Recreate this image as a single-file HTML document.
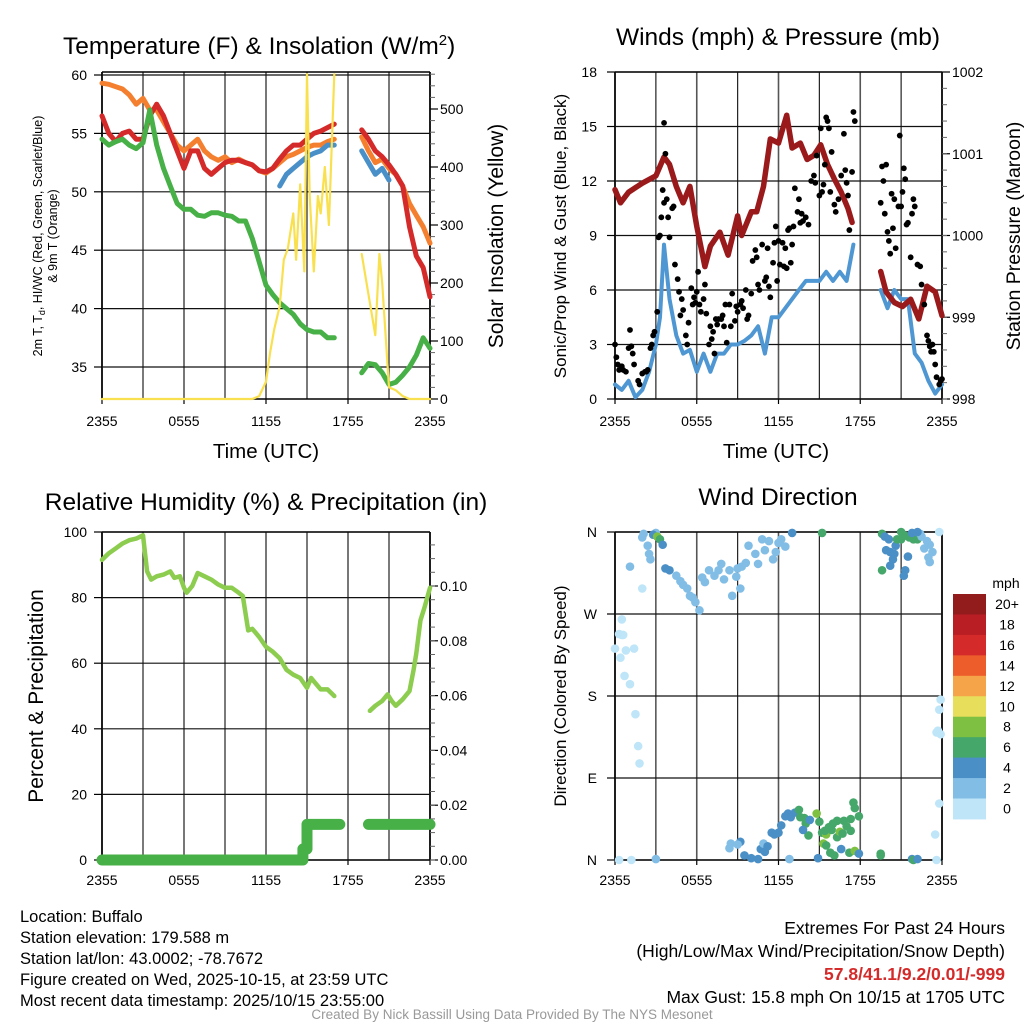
<!DOCTYPE html>
<html><head><meta charset="utf-8"><style>
html,body{margin:0;padding:0;background:#fff;}
svg text{font-family:"Liberation Sans",sans-serif;fill:#000;}
</style></head><body>
<svg id="c" width="1024" height="1024" viewBox="0 0 1024 1024" xmlns="http://www.w3.org/2000/svg">
<g id="g"></g>
</svg>
<script>
// ---------- DATA ----------
const tickTimes=[0,6,12,18,24];
const tickLabels=["2355","0555","1155","1755","2355"];
const tT=[0,0.5,1,1.5,2,2.5,3,3.5,4,4.5,5,5.5,6,6.5,7,7.5,8,8.5,9,9.5,10,10.5,11,11.5,12,12.5,13,13.5,14,14.5,15,15.5,16,16.5,17,17.5,19,19.5,20,20.5,21,21.5,22,22.5,23,23.5,24];
const temp9m=[59.3,59.2,59,58.8,58.3,57.5,58,57,57,56,55,54,53.5,54,54.5,53.5,53,52.7,53,52.5,52.8,52.5,52.3,51.8,51.6,52,52.5,53,53.2,53.5,53.8,54,54,54.3,54.5,null,54.7,53.5,52.5,52.8,52,51.5,50.5,49,48,47,45.6];
const temp2m=[56.5,55,54.3,55,55.2,54.5,54.5,56.5,57.5,56.5,55,53.5,52,53.5,53.5,52,51.5,52,52.5,52.7,52.7,52.5,52.3,51.8,51.7,52,52.8,53.5,54,54,54.5,55,55.2,55.5,55.8,null,55.3,54.5,53.5,53,52.3,51.5,50.5,47,44.5,43.5,41];
const dewpt=[54.5,54,54.3,54.5,54,53.7,54.2,57,54,52,50.5,49,48.5,48.5,48,47.9,48.2,48.2,48,47.9,47.5,47.5,46,44,42,41.2,40.5,40,39.5,38.7,38.2,38,38,37.5,37.5,null,34.5,35.3,35.2,34.5,33.5,33.7,34.3,35,36,37.5,36.6];
const hiwc=[null,null,null,null,null,null,null,null,null,null,null,null,null,null,null,null,null,null,null,null,null,null,null,null,null,null,50.5,51.5,52,52.5,53,53.3,53.5,54,54,null,53.5,52.5,51.5,52,51,null,null,null,null,null,null];
const tSolar=[0,11,11.5,12,12.3,12.6,13,13.3,13.6,14,14.2,14.5,14.8,15,15.2,15.5,15.8,16,16.3,16.6,17,17.2,19,19.5,20,20.3,20.5,21,21.5,22,22.5,24];
const solar=[0,0,5,30,80,120,160,240,260,320,240,370,220,560,350,220,350,320,400,300,560,null,250,180,110,250,200,20,15,5,0,0];
const tWind=[0,0.5,1,1.5,2,2.5,3,3.3,3.6,4,4.5,5,5.5,6,6.5,7,7.5,8,8.5,9,9.5,10,10.5,11,11.5,12,12.5,13,13.5,14,14.5,15,15.5,16,16.5,17,17.5,18,19.5,20,20.5,21,21.5,22,22.5,23,23.5,24];
const sonic=[0.8,0.5,1,0.1,0.5,1.5,3,4.5,8.5,5.5,3.5,2.5,2.7,1.5,2.5,1.5,2.5,2.5,3,3,3.2,3.5,4,2.5,4.5,4.5,5,5.5,6,6.5,6.5,6.5,7,6.5,7,6.5,8.5,null,6,5,6,5.5,5.5,2.5,2,1,0.3,0.8];
const tPres=[0,0.4,1,2,3,3.6,4,4.5,5,5.5,6,6.6,7,7.7,8.3,9,9.3,10,10.4,10.9,11.4,12,12.6,13,13.6,14.1,14.6,15.1,15.6,16.1,16.6,17.1,17.4,18,19.5,19.9,20.5,21.1,21.7,22.3,22.9,23.5,24];
const pressure=[1000.56,1000.4,1000.53,1000.64,1000.73,1000.96,1000.87,1000.6,1000.4,1000.6,1000.11,999.62,999.87,1000.04,999.76,1000.24,1000,1000.29,1000.29,1000.6,1001.18,1001.13,1001.47,1001.07,1001.13,1000.93,1000.98,1001.11,1000.87,1000.69,1000.53,1000.33,1000.16,null,999.56,999.31,999.18,999.13,999.22,998.98,999.38,999.31,999.02];
const gustT=[0,0.1,0.2,0.3,0.5,0.6,0.8,1,1.1,1.2,1.3,1.4,1.7,1.8,2,2.2,2.3,2.4,2.6,2.7,2.8,2.9,3.1,3.2,3.3,3.4,3.5,3.6,3.6,3.7,3.8,3.9,4,4.2,4.3,4.4,4.6,4.7,4.8,4.9,5,5.2,5.3,5.4,5.6,5.7,5.8,5.9,6,6.1,6.2,6.3,6.5,6.6,6.7,6.9,7,7.1,7.2,7.3,7.4,7.5,7.6,7.8,7.9,8,8.1,8.2,8.4,8.5,8.6,8.8,8.9,9,9.2,9.3,9.4,9.6,9.7,9.8,10,10.1,10.3,10.4,10.5,10.6,10.8,11,11.1,11.2,11.3,11.4,11.6,11.7,11.8,11.9,12,12.1,12.3,12.4,12.5,12.6,12.7,12.8,12.9,13,13.1,13.2,13.4,13.5,13.6,13.7,13.8,14,14.2,14.4,14.6,14.7,14.8,15,15.1,15.2,15.3,15.4,15.5,15.6,15.7,15.8,15.9,16.1,16.2,16.4,16.6,16.8,16.9,17,17.1,17.2,17.4,17.5,17.6,19.5,19.6,19.7,19.8,19.9,20,20.1,20.2,20.3,20.4,20.5,20.6,20.8,20.9,21,21.1,21.2,21.3,21.4,21.5,21.7,21.8,21.9,22,22.2,22.4,22.5,22.7,22.9,23,23.1,23.2,23.3,23.4,23.5,23.6,23.8,23.9,24];
const gust=[3,2.3,1.9,1.6,1.8,1.6,1.5,2.8,3.8,2.9,2.5,1.9,1,0.8,1.4,1.5,1.5,1.6,2.8,3,3.5,3.7,4.8,8.9,9,10,11.5,10.8,15.2,13.5,11,10,8.9,10.5,10.6,7.4,6.6,5.9,4.6,5.5,4.9,3.5,3,4.2,6.1,5.2,5.6,5.3,5.9,7,5.2,4.8,5.5,6.3,4.7,3,4,3.3,3.7,2.5,4.4,4.1,4.4,4.4,4.6,4,5.2,3.1,5.2,4,5.8,4.3,5.1,4.8,5.2,5.4,5,6,4.4,4.6,5.8,7.6,8.2,7.8,6.3,6,8.5,6.5,6.7,8.3,6.2,5.6,7.5,8.6,9.5,6.5,8.7,7.4,8.6,7.3,8.3,7.2,9.3,9.4,7.5,8.5,9.5,11.6,10.3,11,9.7,10.2,9.8,10,9.6,12,12.3,11.9,13.4,11.2,14.9,11.4,11.8,12.9,15.5,15.3,14.9,11.4,13.6,10.7,10.3,11,12.3,14.6,12.6,11.9,11.2,9.3,12.5,15.8,15.3,10.8,12.8,12,10.2,12.9,9.2,8.7,8,11.3,9.4,11,8.3,10.6,14.5,10.6,11.4,12.7,12.1,9.6,9.7,7.8,10.2,11,10.6,7.4,7.3,6.3,5.2,3.5,3.2,2.9,2.6,3,2.6,1.9,1.2,0.8,1,1.1];
const tRH=[0,0.5,1,1.5,2,2.5,3,3.3,3.6,4,4.5,5,5.3,5.7,6,6.2,6.6,7,7.5,8,8.5,9,9.5,10,10.3,10.7,11,11.5,12,12.5,13,13.5,14,14.5,15,15.3,15.6,16,16.5,17,18,19.6,20,20.5,20.9,21.2,21.5,22,22.5,22.8,23,23.3,23.6,24];
const rh=[91.5,93.5,95,96.5,97.5,98,99,88,85.5,86.5,87,88,86,86.5,83,81.5,83.5,87.5,86.5,85.5,84,83,83,81.5,80.5,70,70.5,68,65,63.5,61.5,58,56.5,55.5,52.5,55.5,54,52,52,50,null,45.5,47,48.5,50.5,48.5,47,49,51.5,58,63,73,77,83];
const tPrecip=[0,14.7,14.7,15.0,15.0,17.4,17.5,19.5,24];
const precip=[0,0,0.004,0.004,0.013,0.013,null,0.013,0.013];
const dirT=[0,0.5,0.5,0.6,0.3,0.8,0.7,0.4,1.1,1.4,1.5,1.7,1.8,2,2.1,3,2.8,3.1,3.3,3.5,2.4,2.5,2.6,3.7,4,4.5,4.8,5,5.3,5.5,5.7,5.9,6.2,6.4,6.6,6.9,7.3,7.6,7.8,8,8.4,8.6,9.3,9,9.2,8.9,9.6,10.3,10.5,11,11.6,11.8,12,11.3,12.5,12.2,10.8,9.8,13,8.5,8.4,9.2,9,9.5,10,10.5,10.7,10.9,11,11.2,11.5,11.7,12,12.2,12.5,12.7,12.9,13.2,13.5,13.6,13.9,14,14.3,14.8,15,15.2,15.5,15.7,15.9,16,16.3,16.5,16.7,16.8,17,17.3,17.5,17.6,17.9,17.3,15.3,15.5,15.8,16.1,16.6,17.2,17.6,17.9,14.2,13.8,16.3,15.4,14.9,12.8,0.3,1.2,3,15.2,19.5,19.5,21.8,21.9,22.2,23.6,23.8,23.9,23.6,23.7,23.9,23.8,23.5,19.6,19.8,20.1,19.9,20.2,20.5,20.2,20.4,20.6,21,21.3,21.6,20.7,21.9,22.2,22.4,22.5,22.9,23.1,22.7,23,23.3,23.1,21.3,21.2,19.6,22.2,23.8,21.8,21,21.5,1.1,2];
const dirDeg=[232,247,264,247,248,230,202,222,193,232,160,125,106,298,358,359,357,355,352,346,345,336,330,320,318,312,306,302,298,290,288,283,274,310,305,318,312,318,325,308,318,290,322,320,298,311,326,336,325,340,330,338,348,350,344,352,352,345,359,18,13,20,17,5,2,1,12,18,9,15,30,28,30,38,48,51,47,52,55,47,46,40,44,51,42,30,28,36,33,40,25,31,29,43,37,45,63,57,48,32,18,16,8,5,12,8,10,7,27,33,43,32,2,1,0,0,1,359,5,7,1,0,1,0,165,176,140,142,138,62,28,358,355,352,340,338,336,323,330,345,360,356,354,352,352,352,358,355,350,346,342,332,338,327,318,312,318,360,360,359,352,333,322,354];
const dirSpd=[1,1,1,1,1,1,1,1,1,1,1,1,1,1,3,3,4,8,7,5,3,3,2,4,5,3,3,3,3,3,3,3,3,3,3,3,3,2,3,3,3,3,3,3,3,3,3,3,3,3,3,3,3,3,3,3,3,3,4,3,3,4,3,4,4,4,4,3,4,4,4,4,4,4,4,4,4,5,6,6,6,6,5,8,6,6,8,6,6,6,6,8,6,6,6,6,6,6,6,6,8,7,6,6,4,7,8,4,7,5,7,6,4,3,1,1,3,6,6,6,5,6,4,1,1,1,1,1,1,1,1,6,4,4,4,4,4,5,4,4,6,6,6,6,6,6,3,3,3,3,3,3,3,3,4,4,6,4,1,4,6,4,2,2];
const cbLabels=["20+","18","16","14","12","10","8","6","4","2","0"];
const cbColors=["#921b1c","#b81e24","#d42a2a","#ec5d2b","#f5a44a","#e7df5b","#7ec142","#46a76b","#4a8fc6","#82bde6","#bee5f8"];

// ---------- HELPERS ----------
const NS="http://www.w3.org/2000/svg";
const G=document.getElementById('g');
function el(tag,attrs,parent){const e=document.createElementNS(NS,tag);for(const k in attrs)e.setAttribute(k,attrs[k]);(parent||G).appendChild(e);return e;}
function lin(d0,d1,p0,p1){return v=>p0+(v-d0)*(p1-p0)/(d1-d0);}
function txt(s,x,y,size,anchor,name,extra){const t=el('text',Object.assign({x:x,y:y,'font-size':size,'text-anchor':anchor||'start'},extra||{}));t.textContent=s;


return t;}
function pathFrom(xs,ys,sx,sy){let d='',pen=false;for(let i=0;i<xs.length;i++){if(ys[i]===null||ys[i]===undefined){pen=false;continue;}d+=(pen?'L':'M')+sx(xs[i]).toFixed(1)+' '+sy(ys[i]).toFixed(1);pen=true;}return d;}
function line(xs,ys,sx,sy,color,w,name,cap){const p=el('path',{d:pathFrom(xs,ys,sx,sy),fill:'none',stroke:color,'stroke-width':w,'stroke-linejoin':'round','stroke-linecap':cap||'round'});


return p;}
function hline(x0,x1,y,c,w,name){const l=el('line',{x1:x0,x2:x1,y1:y,y2:y,stroke:c,'stroke-width':w});

}
function vline(x,y0,y1,c,w,name){const l=el('line',{x1:x,x2:x,y1:y0,y2:y1,stroke:c,'stroke-width':w});

}

function frame(x0,x1,y0,y1,sx,timeLabelY){
  for(let h=0;h<=24;h+=3){vline(sx(h),y0,y1,(h%6==0)?'#555':'#222',(h%6==0)?1.6:1.2,'x-gridline');}
  for(let i=0;i<tickTimes.length;i++){vline(sx(tickTimes[i]),y1,y1+5,'#000',1.2,'x-tick');txt(tickLabels[i],sx(tickTimes[i]),timeLabelY,14,'middle','x-tick-label');}
  vline(x0,y0,y1,'#000',1.6,'left-axis');vline(x1,y0,y1,'#000',1.6,'right-axis');
  hline(x0,x1,y0,'#000',1.6,'top-axis');hline(x0,x1,y1,'#000',1.6,'bottom-axis');
}
function leftTicks(vals,labels,sy,x0,x1,lx,name){vals.forEach((v,i)=>{hline(x0,x1,sy(v),'#111',1.2,'y-gridline');hline(x0-8,x0,sy(v),'#000',1.2,'y-tick');txt(labels[i],lx,sy(v)+5,14,'end',name);});}
function rightTicks(vals,labels,sy,x1,lx,minor,name){vals.forEach((v,i)=>{hline(x1,x1+8,sy(v),'#000',1.2,'right-tick');txt(labels[i],lx,sy(v)+5,14,'start',name);});minor.forEach(v=>{hline(x1,x1+5,sy(v),'#666',1,'right-minor-tick');});}

// ---------- PANEL 1 ----------
{
const x0=102,x1=430,y0=72,y1=399;
const sx=lin(0,24,x0,x1), sy=lin(35,60,367,75), sr=lin(0,500,399,109);
frame(x0,x1,y0,y1,sx,426);
leftTicks([35,40,45,50,55,60],["35","40","45","50","55","60"],sy,x0,x1,87,'temp-tick-label');
const mn=[];for(let v=20;v<=560;v+=20)if(v%100)mn.push(v);
rightTicks([0,100,200,300,400,500],["0","100","200","300","400","500"],sr,x1,440,mn,'solar-tick-label');
line(tT,temp9m,sx,sy,'#f47f2f',5,'temp-9m-line');
line(tT,hiwc,sx,sy,'#4a90c8',5,'heat-index-line');
line(tT,temp2m,sx,sy,'#d42a2a',5,'temp-2m-line');
line(tT,dewpt,sx,sy,'#47b047',5,'dewpoint-line');
line(tSolar,solar,sx,sr,'#f9e04f',2.2,'solar-insolation-line');
const t=txt('Temperature (F) & Insolation (W/m',63,54,24.5,'start','temp-panel-title');
const s=el('tspan',{dy:-9,'font-size':15},t);s.textContent='2';const s2=el('tspan',{dy:9},t);s2.textContent=')';
txt('Time (UTC)',266,458,20.5,'middle','x-axis-title');
txt('Solar Insolation (Yellow)',503,236,21,'middle','right-axis-title',{transform:'rotate(-90 503 236)'});
const ly=txt('',42,236,12.5,'middle','left-axis-title',{transform:'rotate(-90 42 236)'});
const a=el('tspan',{},ly);a.textContent='2m T, T';const b=el('tspan',{dy:3,'font-size':9},ly);b.textContent='d';const c=el('tspan',{dy:-3},ly);c.textContent=', HI/WC (Red, Green, Scarlet/Blue)';
txt('& 9m T (Orange)',57,236,12.5,'middle','left-axis-title-line2',{transform:'rotate(-90 57 236)'});
}
// ---------- PANEL 2 ----------
{
const x0=615,x1=942,y0=72,y1=399;
const sx=lin(0,24,x0,x1), sy=lin(0,18,399,72), sp=lin(998,1002,399,72);
frame(x0,x1,y0,y1,sx,426);
leftTicks([0,3,6,9,12,15,18],["0","3","6","9","12","15","18"],sy,x0,x1,597,'wind-tick-label');
const mn=[];for(let v=998;v<=1002;v+=0.2)mn.push(v);
rightTicks([998,999,1000,1001,1002],["998","999","1000","1001","1002"],sp,x1,952,mn,'pressure-tick-label');
line(tWind,sonic,sx,sy,'#4f97d2',4,'sonic-wind-line');
line(tPres,pressure,sx,sp,'#9a1a1c',5.5,'pressure-line');
for(let i=0;i<gustT.length;i++){const d=el('circle',{cx:sx(gustT[i]),cy:sy(gust[i]),r:2.9,fill:'#000'});

}
txt('Winds (mph) & Pressure (mb)',778,45,24.5,'middle','winds-panel-title');
txt('Time (UTC)',776,458,20.5,'middle','x-axis-title');
txt('Sonic/Prop Wind & Gust (Blue, Black)',566,236,17,'middle','left-axis-title',{transform:'rotate(-90 566 236)'});
txt('Station Pressure (Maroon)',1020,236,19.5,'middle','right-axis-title',{transform:'rotate(-90 1020 236)'});
}
// ---------- PANEL 3 ----------
{
const x0=102,x1=430,y0=532,y1=860;
const sx=lin(0,24,x0,x1), sy=lin(0,100,860,532), sr=lin(0,0.1,860,586);
frame(x0,x1,y0,y1,sx,885);
leftTicks([0,20,40,60,80,100],["0","20","40","60","80","100"],sy,x0,x1,87,'rh-tick-label');
const mn=[];for(let v=0;v<=0.12;v+=0.005)mn.push(v);
rightTicks([0,0.02,0.04,0.06,0.08,0.1],["0.00","0.02","0.04","0.06","0.08","0.10"],sr,x1,440,mn,'precip-tick-label');
line(tRH,rh,sx,sy,'#8ccc4e',4.5,'rh-line');
line(tPrecip,precip,sx,sr,'#47b047',11,'precip-line');
txt('Relative Humidity (%) & Precipitation (in)',266,510,24.5,'middle','rh-panel-title');
txt('Percent & Precipitation',43,696,21,'middle','left-axis-title',{transform:'rotate(-90 43 696)'});
}
// ---------- PANEL 4 ----------
{
const x0=615,x1=942,y0=532,y1=860;
const sx=lin(0,24,x0,x1), sy=lin(0,360,860,532);
frame(x0,x1,y0,y1,sx,885);
leftTicks([0,90,180,270,360],["N","E","S","W","N"],sy,x0,x1,597,'direction-tick-label');
for(let i=0;i<dirT.length;i++){const bin=Math.min(10,Math.floor(dirSpd[i]/2));
const d=el('circle',{cx:sx(dirT[i]),cy:sy(dirDeg[i]),r:4.3,fill:cbColors[10-bin]});

}
txt('Wind Direction',778,505,24.5,'middle','direction-panel-title');
txt('Direction (Colored By Speed)',566,696,17,'middle','left-axis-title',{transform:'rotate(-90 566 696)'});
txt('mph',1006,588,14,'middle','colorbar-title');
for(let i=0;i<cbColors.length;i++){const r=el('rect',{x:953,y:594+i*20.45,width:33,height:20.9,fill:cbColors[i]});


txt(cbLabels[i],1007,609+i*20.45,14,'middle','colorbar-label');}
}
// ---------- Footer ----------
const leftInfo=["Location: Buffalo","Station elevation: 179.588 m","Station lat/lon: 43.0002; -78.7672","Figure created on Wed, 2025-10-15, at 23:59 UTC","Most recent data timestamp: 2025/10/15 23:55:00"];
leftInfo.forEach((s,i)=>txt(s,20,922+i*21,16.5,'start','station-info-line'));
txt('Extremes For Past 24 Hours',1005,934,17.5,'end','extremes-title');
txt('(High/Low/Max Wind/Precipitation/Snow Depth)',1005,957,17.5,'end','extremes-subtitle');
txt('57.8/41.1/9.2/0.01/-999',1005,980,17.5,'end','extremes-values',{'font-weight':'bold',style:'fill:#d42a2a'});
txt('Max Gust: 15.8 mph On 10/15 at 1705 UTC',1005,1003,17.5,'end','max-gust-text');
txt('Created By Nick Bassill Using Data Provided By The NYS Mesonet',512,1019,13.5,'middle','credit-text',{style:'fill:#999'});
</script>
</body></html>
